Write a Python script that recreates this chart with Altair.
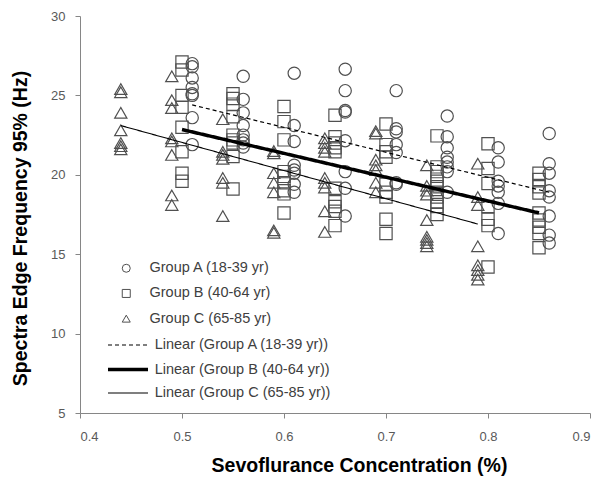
import altair as alt
import pandas as pd

# ---- data ----
group_names = ["Group A (18-39 yr)", "Group B (40-64 yr)", "Group C (65-85 yr)"]
trend_names = ["Linear (Group A (18-39 yr))", "Linear (Group B (40-64 yr))", "Linear (Group C (65-85 yr))"]

a_x = [0.51, 0.56, 0.61, 0.66, 0.71, 0.76, 0.81, 0.86]
a_y = [
    [27.0, 26.8, 26.1, 25.5, 25.1, 25.0, 23.6, 21.9],
    [26.2, 24.75, 23.9, 23.1, 22.5, 22.2, 22.0, 21.75],
    [26.4, 23.1, 22.1, 20.6, 20.3, 20.1, 19.4, 18.9],
    [26.65, 25.3, 24.05, 23.95, 22.15, 20.2, 19.15, 17.4],
    [25.3, 22.9, 22.7, 21.9, 21.4, 19.5, 19.4],
    [23.7, 22.4, 21.7, 21.1, 20.8, 20.5, 20.2, 18.9],
    [21.7, 20.8, 19.6, 19.3, 18.9, 18.2, 16.3],
    [22.6, 20.7, 20.1, 19.0, 18.6, 17.4, 16.2, 15.7],
]
b_x = [0.50, 0.55, 0.60, 0.65, 0.70, 0.75, 0.80, 0.85]
b_y = [
    [27.1, 26.6, 25.0, 24.25, 23.0, 21.45, 20.1, 19.6],
    [25.1, 24.8, 24.45, 23.65, 22.5, 22.2, 22.0, 21.15, 19.1],
    [24.3, 23.35, 22.2, 20.2, 19.9, 19.5, 19.0, 18.8, 17.6],
    [23.75, 22.4, 22.0, 21.7, 21.45, 19.15, 18.3, 18.0, 17.7, 16.8],
    [23.2, 21.9, 21.45, 21.1, 19.4, 18.9, 18.6, 17.2, 16.3],
    [22.45, 20.5, 20.2, 19.9, 19.6, 19.25, 18.9, 18.6, 18.3, 18.0, 17.5],
    [21.95, 20.4, 19.45, 18.0, 17.2, 16.8, 14.2],
    [20.1, 19.7, 19.25, 18.85, 17.6, 17.15, 16.7, 16.3, 15.4],
]
c_x = [0.44, 0.49, 0.54, 0.59, 0.64, 0.69, 0.74, 0.79]
c_y = [
    [25.4, 25.2, 23.9, 22.8, 22.0, 21.8, 21.6],
    [26.2, 24.7, 24.2, 22.3, 22.1, 21.25, 18.7, 18.1],
    [23.5, 21.45, 21.25, 21.0, 19.8, 19.5, 17.4],
    [21.5, 21.35, 20.1, 19.5, 18.9, 16.5, 16.35],
    [22.3, 22.0, 21.7, 21.45, 19.8, 19.5, 19.2, 17.7, 16.4],
    [22.75, 22.6, 20.95, 20.6, 20.3, 19.5, 18.9],
    [20.6, 19.3, 19.0, 18.75, 17.15, 16.1, 15.9, 15.7, 15.5],
    [20.7, 18.6, 18.1, 15.5, 14.3, 14.0, 13.7, 13.4],
]

# trend-line end points (x, y) per group
trend_x = [[0.51, 0.86], [0.50, 0.85], [0.44, 0.79]]
trend_y = [[24.4, 18.9], [22.85, 17.6], [23.1, 16.9]]
trend_dash = [[4, 3], [1, 0], [1, 0]]
trend_width = [1.2, 3.5, 1.1]

x_ticks = [0.4, 0.5, 0.6, 0.7, 0.8, 0.9]
y_ticks = [5, 10, 15, 20, 25, 30]

# ---- build tables ----
rows = []
for name, xs, ys in zip(group_names, [a_x, b_x, c_x], [a_y, b_y, c_y]):
    for xv, col in zip(xs, ys):
        for yv in col:
            rows.append({"conc": xv, "sef": yv, "group": name})
pts = pd.DataFrame(rows)

trows = []
for name, xs, ys in zip(trend_names, trend_x, trend_y):
    for i, (xv, yv) in enumerate(zip(xs, ys)):
        trows.append({"conc": xv, "sef": yv, "trend": name, "o": i})
trend = pd.DataFrame(trows)

FONT = "Liberation Sans"
INK = "#505050"

x_enc = alt.X(
    "conc:Q",
    scale=alt.Scale(domain=[0.4, 0.9], nice=False, zero=False),
    axis=alt.Axis(
        values=x_ticks, format=".1f", grid=False,
        title="Sevoflurance Concentration (%)",
        titleFontSize=19.5, titleFontWeight="bold", titleColor="#000000", titleFont=FONT,
        titleX=279, titleY=52, titleBaseline="middle",
        labelFontSize=13, labelColor="#595959", labelFont=FONT, labelPadding=12,
        tickSize=5, tickColor="#868686", domainColor="#868686",
    ),
)
y_enc = alt.Y(
    "sef:Q",
    scale=alt.Scale(domain=[5, 30], nice=False, zero=False),
    axis=alt.Axis(
        values=y_ticks, grid=False,
        title="Spectra Edge Frequency 95% (Hz)",
        titleFontSize=19.5, titleFontWeight="bold", titleColor="#000000", titleFont=FONT,
        titleX=-60, titleY=212, titleBaseline="middle",
        labelFontSize=13, labelColor="#595959", labelFont=FONT, labelPadding=10,
        tickSize=5, tickColor="#868686", domainColor="#868686",
    ),
)

points = alt.Chart(pts).mark_point(filled=False, size=150, strokeWidth=1.2, color=INK, opacity=1).encode(
    x=x_enc,
    y=y_enc,
    shape=alt.Shape(
        "group:N",
        scale=alt.Scale(domain=group_names, range=["circle", "square", "triangle-up"]),
        legend=alt.Legend(
            title=None, orient="none", legendX=39, legendY=245, padding=0,
            symbolSize=64, symbolStrokeWidth=1, symbolStrokeColor=INK, symbolFillColor="transparent",
            labelFontSize=14.5, labelFont=FONT, labelColor="#404040", labelOffset=16,
            rowPadding=10.2, labelLimit=400,
        ),
    ),
)

legend_line = dict(
    title=None, orient="none", legendX=36, legendY=318, padding=0,
    symbolType="M-2,0H2", symbolSize=400, symbolStrokeColor="#000000",
    symbolFillColor="transparent",
    labelFontSize=14.5, labelFont=FONT, labelColor="#404040", labelOffset=14.7,
    rowPadding=5.5, labelLimit=400,
)

lines = alt.Chart(trend).mark_line(color="#000000").encode(
    x="conc:Q",
    y="sef:Q",
    detail="trend:N",
    order="o:Q",
    strokeDash=alt.StrokeDash(
        "trend:N",
        scale=alt.Scale(type="ordinal", domain=trend_names, range=trend_dash),
        legend=alt.Legend(**legend_line),
    ),
    strokeWidth=alt.StrokeWidth(
        "trend:N",
        scale=alt.Scale(type="ordinal", domain=trend_names, range=trend_width),
        legend=alt.Legend(**legend_line),
    ),
)

chart = (
    alt.layer(points, lines)
    .resolve_scale(shape="independent", strokeDash="independent", strokeWidth="independent")
    .properties(
        width=510, height=397,
        padding={"left": 72, "top": 8, "right": 10, "bottom": 68},
        autosize=alt.AutoSizeParams(type="none"),
        background="#ffffff",
    )
    .configure_view(stroke=None)
)

chart.save("out.html", embed_options={"renderer": "svg", "actions": False})
